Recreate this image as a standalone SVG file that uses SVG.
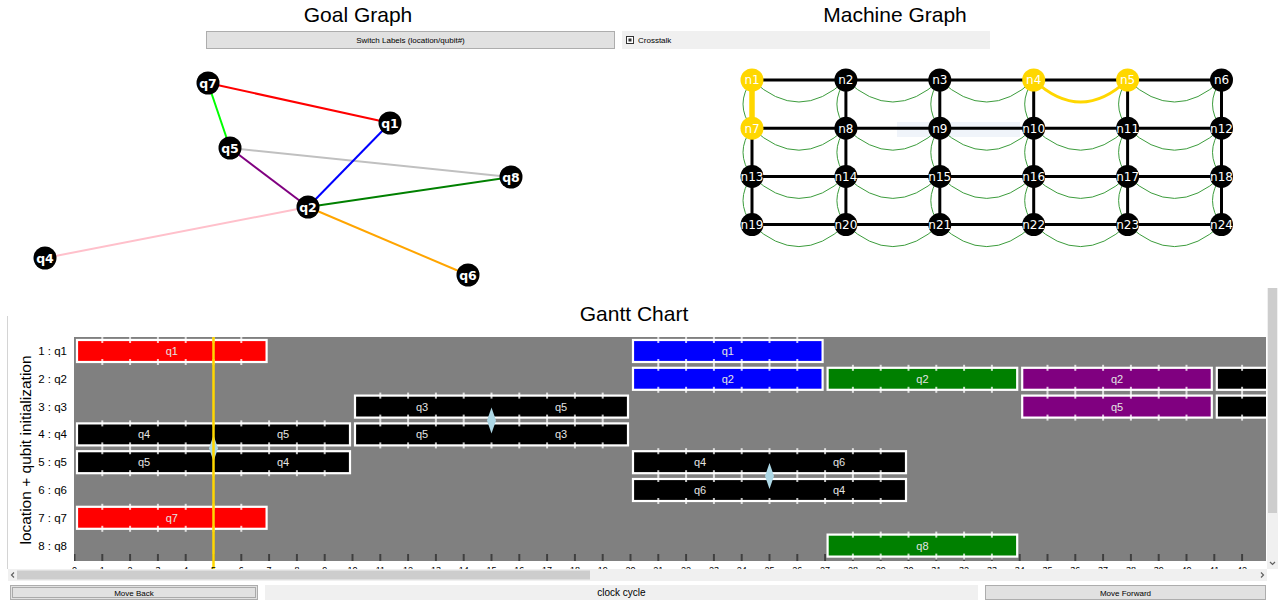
<svg xmlns="http://www.w3.org/2000/svg" width="1278" height="603" viewBox="0 0 1278 603">
<style>
.title{font-family:"Liberation Sans",Arial,sans-serif;font-size:21px;fill:#000;text-anchor:middle}
.btn{fill:#e1e1e1;stroke:#adadad;stroke-width:1}
.btxt{font-family:"Liberation Sans",Arial,sans-serif;font-size:8px;fill:#000;text-anchor:middle}
.gnode circle{fill:#000}
.gnode text{font-family:"DejaVu Sans",sans-serif;font-weight:bold;font-size:12.5px;fill:#fff;text-anchor:middle}
.ge{stroke-width:2;fill:none}
.mnode circle{fill:#000}
.mnode.sel circle{fill:#ffd700}
.mnode text{font-family:"DejaVu Sans",sans-serif;font-size:12px;fill:#fff;text-anchor:middle}
.ctk{fill:none;stroke:#3c9c3c;stroke-width:1}
.medge{stroke:#000;stroke-width:3}
.bar{stroke:#fff;stroke-width:2.2}
.blab{font-family:"Liberation Sans",Arial,sans-serif;font-size:11px;fill:#e4e4e4;text-anchor:middle}
.ylab{font-family:"Liberation Sans",Arial,sans-serif;font-size:11.5px;fill:#000;text-anchor:end}
.xlab{font-family:"Liberation Sans",Arial,sans-serif;font-size:9px;fill:#000;text-anchor:middle}
.swap{fill:#add8e6}
.stub{fill:url(#stubs)}
</style>
<defs>
<pattern id="stubs" patternUnits="userSpaceOnUse" x="73.5" y="0" width="27.8" height="603">
<rect x="0.25" y="0" width="1.5" height="603" fill="#fff"/>
</pattern>
<pattern id="ticks" patternUnits="userSpaceOnUse" x="73.5" y="0" width="27.8" height="603">
<rect x="0.5" y="0" width="1" height="603" fill="#000"/>
</pattern>
<clipPath id="plotclip"><rect x="74" y="337" width="1192" height="224"/></clipPath>
</defs>
<rect x="0" y="0" width="1278" height="603" fill="#fff"/>

<!-- titles -->
<text class="title" x="358" y="22">Goal Graph</text>
<text class="title" x="895" y="22">Machine Graph</text>

<!-- top controls -->
<g id="switch-labels">
<rect class="btn" x="206.5" y="31.5" width="408" height="17"/>
<text class="btxt" x="410.5" y="43">Switch Labels (location/qubit#)</text>
</g>
<g id="crosstalk">
<rect x="622" y="31" width="368" height="18" fill="#f0f0f0"/>
<rect x="626.5" y="36.5" width="7" height="7" fill="#fff" stroke="#333"/>
<rect x="628.5" y="38.5" width="3" height="3" fill="#333"/>
<text x="638" y="43" font-family="Liberation Sans, Arial, sans-serif" font-size="8px">Crosstalk</text>
</g>

<!-- goal graph -->
<g id="goal-edges">
<line class="ge" x1="208" y1="83" x2="390" y2="123" stroke="#ff0000"/>
<line class="ge" x1="208" y1="83" x2="230" y2="148" stroke="#00ff00"/>
<line class="ge" x1="230" y1="148" x2="511" y2="177" stroke="#c0c0c0"/>
<line class="ge" x1="230" y1="148" x2="308" y2="207" stroke="#800080"/>
<line class="ge" x1="390" y1="123" x2="308" y2="207" stroke="#0000ff"/>
<line class="ge" x1="308" y1="207" x2="511" y2="177" stroke="#008000"/>
<line class="ge" x1="308" y1="207" x2="45" y2="258" stroke="#ffc0cb"/>
<line class="ge" x1="308" y1="207" x2="468" y2="275" stroke="#ffa500"/>
</g>
<g id="g-q7" class="gnode"><circle cx="208" cy="83" r="11.5"/><text x="208" y="87.5">q7</text></g>
<g id="g-q1" class="gnode"><circle cx="390" cy="123" r="11.5"/><text x="390" y="127.5">q1</text></g>
<g id="g-q5" class="gnode"><circle cx="230" cy="148" r="11.5"/><text x="230" y="152.5">q5</text></g>
<g id="g-q8" class="gnode"><circle cx="511" cy="177" r="11.5"/><text x="511" y="181.5">q8</text></g>
<g id="g-q2" class="gnode"><circle cx="308" cy="207" r="11.5"/><text x="308" y="211.5">q2</text></g>
<g id="g-q4" class="gnode"><circle cx="45" cy="258" r="11.5"/><text x="45" y="262.5">q4</text></g>
<g id="g-q6" class="gnode"><circle cx="468" cy="275" r="11.5"/><text x="468" y="279.5">q6</text></g>

<!-- machine graph -->
<rect x="897" y="122" width="123" height="15" fill="#f0f4fa"/>
<g id="machine-connectors">
<path class="ctk" d="M752,80 q46.95,44 93.9,0 q46.95,44 93.9,0 q46.95,44 93.9,0 q46.95,44 93.9,0 q46.95,44 93.9,0"/>
<path class="ctk" d="M752,128.2 q46.95,44 93.9,0 q46.95,44 93.9,0 q46.95,44 93.9,0 q46.95,44 93.9,0 q46.95,44 93.9,0"/>
<path class="ctk" d="M752,176.4 q46.95,44 93.9,0 q46.95,44 93.9,0 q46.95,44 93.9,0 q46.95,44 93.9,0 q46.95,44 93.9,0"/>
<path class="ctk" d="M752,224.6 q46.95,44 93.9,0 q46.95,44 93.9,0 q46.95,44 93.9,0 q46.95,44 93.9,0 q46.95,44 93.9,0"/>
<path class="ctk" d="M752,80 q-18,24.1 0,48.2 q-18,24.1 0,48.2 q-18,24.1 0,48.2"/>
<path class="ctk" d="M845.9,80 q-18,24.1 0,48.2 q-18,24.1 0,48.2 q-18,24.1 0,48.2"/>
<path class="ctk" d="M939.8,80 q-18,24.1 0,48.2 q-18,24.1 0,48.2 q-18,24.1 0,48.2"/>
<path class="ctk" d="M1033.7,80 q-18,24.1 0,48.2 q-18,24.1 0,48.2 q-18,24.1 0,48.2"/>
<path class="ctk" d="M1127.6,80 q-18,24.1 0,48.2 q-18,24.1 0,48.2 q-18,24.1 0,48.2"/>
<path class="ctk" d="M1221.5,80 q-18,24.1 0,48.2 q-18,24.1 0,48.2 q-18,24.1 0,48.2"/>
<line class="medge" x1="752" y1="80" x2="1221.5" y2="80"/>
<line class="medge" x1="752" y1="128.2" x2="1221.5" y2="128.2"/>
<line class="medge" x1="752" y1="176.4" x2="1221.5" y2="176.4"/>
<line class="medge" x1="752" y1="224.6" x2="1221.5" y2="224.6"/>
<line class="medge" x1="752" y1="80" x2="752" y2="224.6"/>
<line class="medge" x1="845.9" y1="80" x2="845.9" y2="224.6"/>
<line class="medge" x1="939.8" y1="80" x2="939.8" y2="224.6"/>
<line class="medge" x1="1033.7" y1="80" x2="1033.7" y2="224.6"/>
<line class="medge" x1="1127.6" y1="80" x2="1127.6" y2="224.6"/>
<line class="medge" x1="1221.5" y1="80" x2="1221.5" y2="224.6"/>
<line x1="752" y1="80" x2="752" y2="128.2" stroke="#ffd700" stroke-width="5.5"/>
<path d="M1033.7,80 q46.95,44 93.9,0" fill="none" stroke="#ffd700" stroke-width="3"/>
</g>
<g id="m-n1" class="mnode sel"><circle cx="752" cy="80" r="11.5"/><text x="752" y="84.3">n1</text></g>
<g id="m-n2" class="mnode"><circle cx="845.9" cy="80" r="11.5"/><text x="845.9" y="84.3">n2</text></g>
<g id="m-n3" class="mnode"><circle cx="939.8" cy="80" r="11.5"/><text x="939.8" y="84.3">n3</text></g>
<g id="m-n4" class="mnode sel"><circle cx="1033.7" cy="80" r="11.5"/><text x="1033.7" y="84.3">n4</text></g>
<g id="m-n5" class="mnode sel"><circle cx="1127.6" cy="80" r="11.5"/><text x="1127.6" y="84.3">n5</text></g>
<g id="m-n6" class="mnode"><circle cx="1221.5" cy="80" r="11.5"/><text x="1221.5" y="84.3">n6</text></g>
<g id="m-n7" class="mnode sel"><circle cx="752" cy="128.2" r="11.5"/><text x="752" y="132.5">n7</text></g>
<g id="m-n8" class="mnode"><circle cx="845.9" cy="128.2" r="11.5"/><text x="845.9" y="132.5">n8</text></g>
<g id="m-n9" class="mnode"><circle cx="939.8" cy="128.2" r="11.5"/><text x="939.8" y="132.5">n9</text></g>
<g id="m-n10" class="mnode"><circle cx="1033.7" cy="128.2" r="11.5"/><text x="1033.7" y="132.5">n10</text></g>
<g id="m-n11" class="mnode"><circle cx="1127.6" cy="128.2" r="11.5"/><text x="1127.6" y="132.5">n11</text></g>
<g id="m-n12" class="mnode"><circle cx="1221.5" cy="128.2" r="11.5"/><text x="1221.5" y="132.5">n12</text></g>
<g id="m-n13" class="mnode"><circle cx="752" cy="176.4" r="11.5"/><text x="752" y="180.7">n13</text></g>
<g id="m-n14" class="mnode"><circle cx="845.9" cy="176.4" r="11.5"/><text x="845.9" y="180.7">n14</text></g>
<g id="m-n15" class="mnode"><circle cx="939.8" cy="176.4" r="11.5"/><text x="939.8" y="180.7">n15</text></g>
<g id="m-n16" class="mnode"><circle cx="1033.7" cy="176.4" r="11.5"/><text x="1033.7" y="180.7">n16</text></g>
<g id="m-n17" class="mnode"><circle cx="1127.6" cy="176.4" r="11.5"/><text x="1127.6" y="180.7">n17</text></g>
<g id="m-n18" class="mnode"><circle cx="1221.5" cy="176.4" r="11.5"/><text x="1221.5" y="180.7">n18</text></g>
<g id="m-n19" class="mnode"><circle cx="752" cy="224.6" r="11.5"/><text x="752" y="228.9">n19</text></g>
<g id="m-n20" class="mnode"><circle cx="845.9" cy="224.6" r="11.5"/><text x="845.9" y="228.9">n20</text></g>
<g id="m-n21" class="mnode"><circle cx="939.8" cy="224.6" r="11.5"/><text x="939.8" y="228.9">n21</text></g>
<g id="m-n22" class="mnode"><circle cx="1033.7" cy="224.6" r="11.5"/><text x="1033.7" y="228.9">n22</text></g>
<g id="m-n23" class="mnode"><circle cx="1127.6" cy="224.6" r="11.5"/><text x="1127.6" y="228.9">n23</text></g>
<g id="m-n24" class="mnode"><circle cx="1221.5" cy="224.6" r="11.5"/><text x="1221.5" y="228.9">n24</text></g>

<!-- gantt chart -->
<g id="gantt">
<line x1="7.5" y1="316" x2="7.5" y2="569" stroke="#d4d4d4"/>
<text class="title" x="634" y="321">Gantt Chart</text>
<text x="31" y="450" transform="rotate(-90 31 450)" font-family="Liberation Sans, Arial, sans-serif" font-size="15.5px" text-anchor="middle">location + qubit initialization</text>
<text class="ylab" x="67" y="355">1 : q1</text>
<text class="ylab" x="67" y="382.8">2 : q2</text>
<text class="ylab" x="67" y="410.6">3 : q3</text>
<text class="ylab" x="67" y="438.4">4 : q4</text>
<text class="ylab" x="67" y="466.2">5 : q5</text>
<text class="ylab" x="67" y="494">6 : q6</text>
<text class="ylab" x="67" y="521.8">7 : q7</text>
<text class="ylab" x="67" y="549.6">8 : q8</text>
<rect x="74" y="337" width="1192" height="224" fill="#808080"/>
<rect x="74" y="554" width="1192" height="7" fill="url(#ticks)"/>
<g clip-path="url(#plotclip)">
<!-- row 1 -->
<rect class="bar" x="77" y="340" width="189.6" height="22" fill="#ff0000"/>
<rect class="bar" x="633" y="340" width="189.6" height="22" fill="#0000ff"/>
<!-- row 2 -->
<rect class="bar" x="633" y="367.8" width="189.6" height="22" fill="#0000ff"/>
<rect class="bar" x="827.6" y="367.8" width="189.6" height="22" fill="#008000"/>
<rect class="bar" x="1022.2" y="367.8" width="189.6" height="22" fill="#800080"/>
<rect class="bar" x="1216.8" y="367.8" width="189.6" height="22" fill="#000"/>
<!-- row 3 -->
<rect class="bar" x="355" y="395.6" width="273" height="22" fill="#000"/>
<rect class="bar" x="1022.2" y="395.6" width="189.6" height="22" fill="#800080"/>
<rect class="bar" x="1216.8" y="395.6" width="189.6" height="22" fill="#000"/>
<!-- row 4 -->
<rect class="bar" x="77" y="423.4" width="273" height="22" fill="#000"/>
<rect class="bar" x="355" y="423.4" width="273" height="22" fill="#000"/>
<!-- row 5 -->
<rect class="bar" x="77" y="451.2" width="273" height="22" fill="#000"/>
<rect class="bar" x="633" y="451.2" width="273" height="22" fill="#000"/>
<!-- row 6 -->
<rect class="bar" x="633" y="479" width="273" height="22" fill="#000"/>
<!-- row 7 -->
<rect class="bar" x="77" y="506.8" width="189.6" height="22" fill="#ff0000"/>
<!-- row 8 -->
<rect class="bar" x="827.6" y="534.6" width="189.6" height="22" fill="#008000"/>
<!-- stubs -->
<g class="stub">
<rect x="80" y="337" width="184" height="6"/><rect x="80" y="359" width="184" height="6"/>
<rect x="636" y="337" width="184" height="6"/><rect x="636" y="359" width="184" height="6"/>
<rect x="636" y="364.8" width="184" height="6"/><rect x="636" y="386.8" width="184" height="6"/>
<rect x="830.6" y="364.8" width="184" height="6"/><rect x="830.6" y="386.8" width="184" height="6"/>
<rect x="1025.2" y="364.8" width="184" height="6"/><rect x="1025.2" y="386.8" width="184" height="6"/>
<rect x="1219.8" y="364.8" width="60" height="6"/><rect x="1219.8" y="386.8" width="60" height="6"/>
<rect x="358" y="392.6" width="267" height="6"/><rect x="358" y="414.6" width="267" height="6"/>
<rect x="1025.2" y="392.6" width="184" height="6"/><rect x="1025.2" y="414.6" width="184" height="6"/>
<rect x="1219.8" y="392.6" width="60" height="6"/><rect x="1219.8" y="414.6" width="60" height="6"/>
<rect x="80" y="420.4" width="267" height="6"/><rect x="80" y="442.4" width="267" height="6"/>
<rect x="358" y="420.4" width="267" height="6"/><rect x="358" y="442.4" width="267" height="6"/>
<rect x="80" y="448.2" width="267" height="6"/><rect x="80" y="470.2" width="267" height="6"/>
<rect x="636" y="448.2" width="267" height="6"/><rect x="636" y="470.2" width="267" height="6"/>
<rect x="636" y="476" width="267" height="6"/><rect x="636" y="498" width="267" height="6"/>
<rect x="80" y="503.8" width="184" height="6"/><rect x="80" y="525.8" width="184" height="6"/>
<rect x="830.6" y="531.6" width="184" height="6"/><rect x="830.6" y="553.6" width="184" height="6"/>
</g>
</g>
<!-- bar labels -->
<text class="blab" x="171.8" y="355">q1</text>
<text class="blab" x="727.8" y="355">q1</text>
<text class="blab" x="727.8" y="382.8">q2</text>
<text class="blab" x="922.4" y="382.8">q2</text>
<text class="blab" x="1117" y="382.8">q2</text>
<text class="blab" x="422" y="410.6">q3</text>
<text class="blab" x="561" y="410.6">q5</text>
<text class="blab" x="1117" y="410.6">q5</text>
<text class="blab" x="144" y="438.4">q4</text>
<text class="blab" x="283" y="438.4">q5</text>
<text class="blab" x="422" y="438.4">q5</text>
<text class="blab" x="561" y="438.4">q3</text>
<text class="blab" x="144" y="466.2">q5</text>
<text class="blab" x="283" y="466.2">q4</text>
<text class="blab" x="700" y="466.2">q4</text>
<text class="blab" x="839" y="466.2">q6</text>
<text class="blab" x="700" y="494">q6</text>
<text class="blab" x="839" y="494">q4</text>
<text class="blab" x="171.8" y="521.8">q7</text>
<text class="blab" x="922.4" y="549.6">q8</text>
<!-- swap markers -->
<polygon class="swap" points="213.5,435.3 218,448.3 213.5,461.3 209,448.3"/>
<polygon class="swap" points="491.5,407.5 496,420.5 491.5,433.5 487,420.5"/>
<polygon class="swap" points="769.5,463.1 774,476.1 769.5,489.1 765,476.1"/>
<!-- current time -->
<line x1="213.5" y1="337" x2="213.5" y2="569" stroke="#ffd700" stroke-width="2.5"/>
<!-- x tick labels -->
<g class="xlab">
<text x="74.5" y="573">0</text><text x="102.3" y="573">1</text><text x="130.1" y="573">2</text><text x="157.9" y="573">3</text><text x="185.7" y="573">4</text><text x="213.5" y="573">5</text><text x="241.3" y="573">6</text><text x="269.1" y="573">7</text><text x="296.9" y="573">8</text><text x="324.7" y="573">9</text>
<text x="352.5" y="573">10</text><text x="380.3" y="573">11</text><text x="408.1" y="573">12</text><text x="435.9" y="573">13</text><text x="463.7" y="573">14</text><text x="491.5" y="573">15</text><text x="519.3" y="573">16</text><text x="547.1" y="573">17</text><text x="574.9" y="573">18</text><text x="602.7" y="573">19</text>
<text x="630.5" y="573">20</text><text x="658.3" y="573">21</text><text x="686.1" y="573">22</text><text x="713.9" y="573">23</text><text x="741.7" y="573">24</text><text x="769.5" y="573">25</text><text x="797.3" y="573">26</text><text x="825.1" y="573">27</text><text x="852.9" y="573">28</text><text x="880.7" y="573">29</text>
<text x="908.5" y="573">30</text><text x="936.3" y="573">31</text><text x="964.1" y="573">32</text><text x="991.9" y="573">33</text><text x="1019.7" y="573">34</text><text x="1047.5" y="573">35</text><text x="1075.3" y="573">36</text><text x="1103.1" y="573">37</text><text x="1130.9" y="573">38</text><text x="1158.7" y="573">39</text>
<text x="1186.5" y="573">40</text><text x="1214.3" y="573">41</text><text x="1242.1" y="573">42</text>
</g>
</g>

<!-- scrollbars -->
<g id="scrollbars">
<rect x="1267" y="288" width="11" height="281" fill="#f0f0f0"/>
<rect x="1268" y="288" width="9" height="225" fill="#cdcdcd"/>
<path d="M1270,562 l2.5,2.5 l2.5,-2.5" fill="none" stroke="#606060" stroke-width="1.2"/>
<rect x="8" y="569" width="1259" height="12" fill="#f0f0f0"/>
<rect x="17" y="570.5" width="573" height="9" fill="#cdcdcd"/>
<path d="M14,572.5 l-2.5,2.5 l2.5,2.5" fill="none" stroke="#606060" stroke-width="1.2"/>
<path d="M1261,572.5 l2.5,2.5 l-2.5,2.5" fill="none" stroke="#606060" stroke-width="1.2"/>
</g>

<!-- bottom controls -->
<g id="move-back">
<rect class="btn" x="10.5" y="585.5" width="247" height="14"/>
<rect x="12.5" y="587.5" width="243" height="10" fill="none" stroke="#555" stroke-width="0.8" stroke-dasharray="1,1"/>
<text class="btxt" x="134" y="595.5">Move Back</text>
</g>
<g id="clock-cycle">
<rect x="265" y="585" width="713" height="15" fill="#f0f0f0"/>
<text x="621.5" y="596" font-family="Liberation Sans, Arial, sans-serif" font-size="10px" text-anchor="middle">clock cycle</text>
</g>
<g id="move-forward">
<rect class="btn" x="985.5" y="585.5" width="280" height="14"/>
<text class="btxt" x="1125.5" y="595.5">Move Forward</text>
</g>
</svg>
